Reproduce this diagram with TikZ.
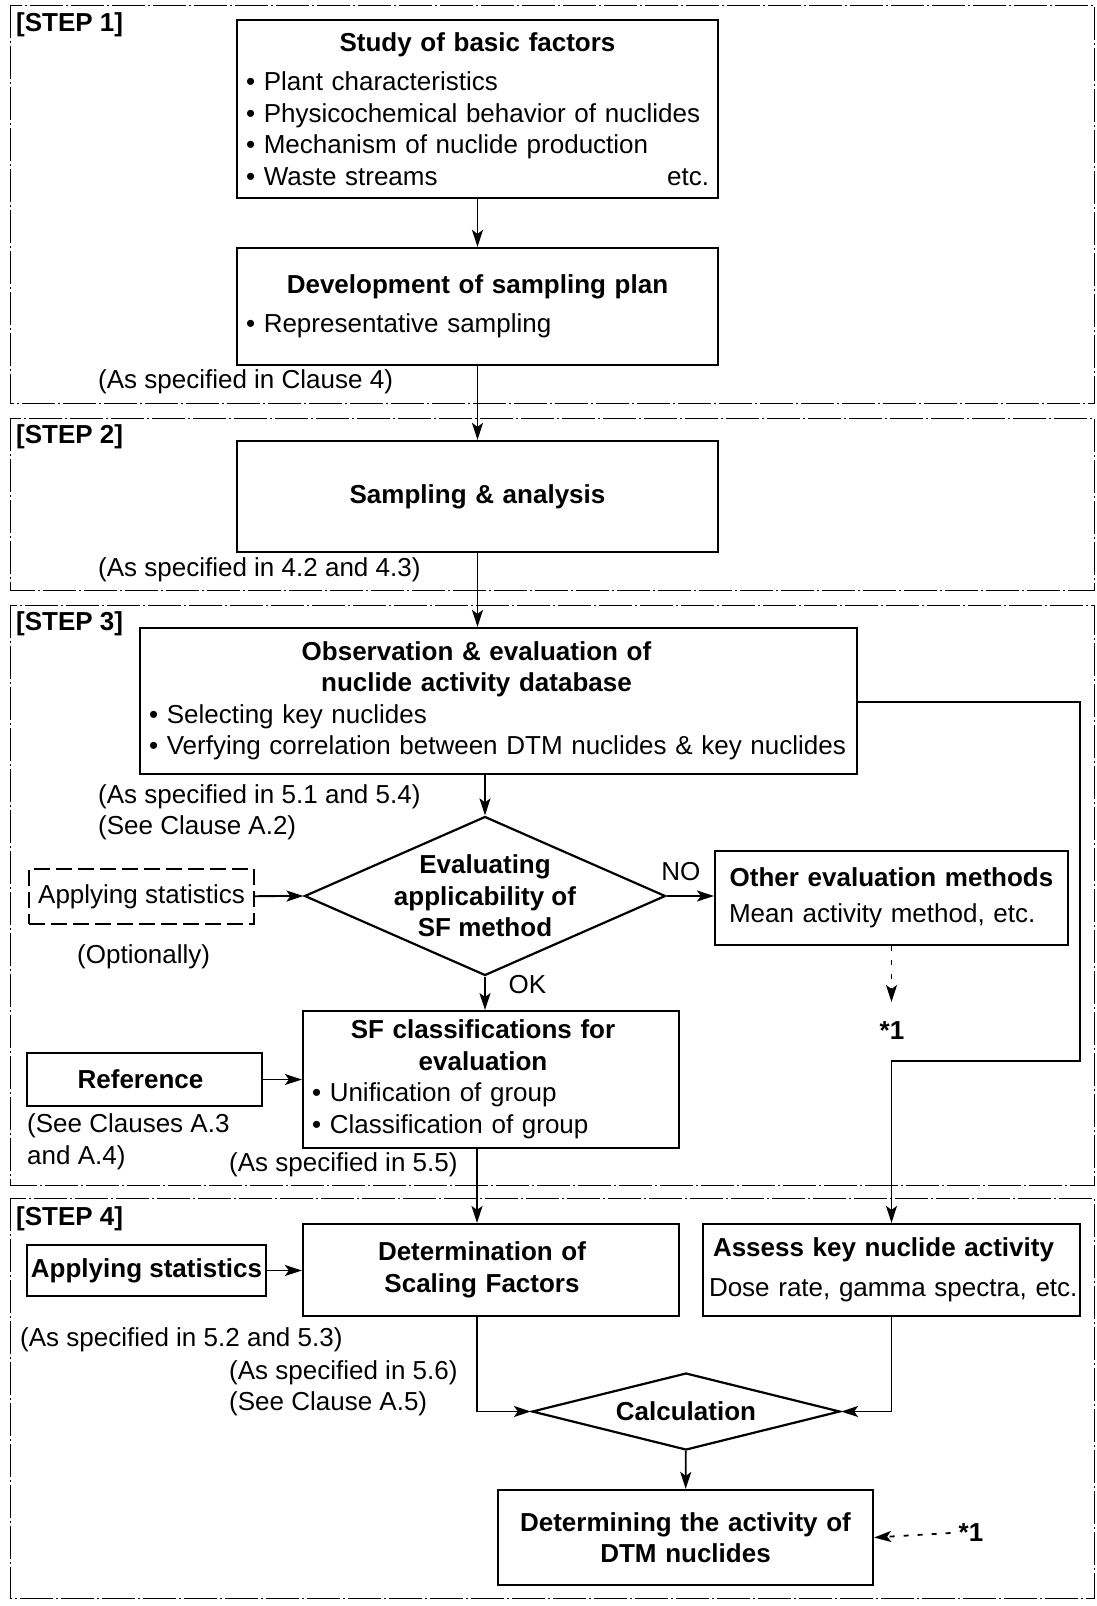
\documentclass[tikz,border=0pt]{standalone}
\usepackage{fontspec}
\setmainfont{Liberation Sans}
\usetikzlibrary{shapes.geometric,arrows.meta}
\begin{document}
\fontsize{26}{31.5}\selectfont
\begin{tikzpicture}[x=1pt,y=-1pt]
    \tikzset{box/.style={draw,line width=2.2pt,inner sep=9pt,align=left},
             decision/.style={diamond,draw,line width=2.2pt,inner sep=0pt},
             frame/.style={line width=1pt,dash pattern=on 33pt off 3pt on 2pt off 3pt},
             note/.style={anchor=west,inner sep=0pt},
             flow/.style={line width=1.8pt,-{Stealth[length=17pt,width=11pt,inset=4pt]}}}
    \useasboundingbox (0,0) rectangle (1096,1606);
    % step frames
    \draw[frame] (10,5) rectangle (1094,403);
    \draw[frame] (10,418) rectangle (1094,590);
    \draw[frame] (10,605) rectangle (1094,1185);
    \draw[frame] (10,1198) rectangle (1094,1598);
    \node[note,font=\bfseries] (s1) at (16,25) {[STEP 1]};
    \node[note,font=\bfseries] (s2) at (16,437) {[STEP 2]};
    \node[note,font=\bfseries] (s3) at (16,624) {[STEP 3]};
    \node[note,font=\bfseries] (s4) at (16,1219) {[STEP 4]};
    % step 1
    \node[box,text width=463pt,minimum height=178pt] (basic) at (477.5,109)
        {\centerline{\bfseries Study of basic factors}\vspace{8pt}
         \textbullet\ Plant characteristics\\
         \textbullet\ Physicochemical behavior of nuclides\\
         \textbullet\ Mechanism of nuclide production\\
         \textbullet\ Waste streams\hfill etc.};
    \node[box,text width=463pt,minimum height=117pt] (plan) at (477.5,306.5)
        {\centerline{\bfseries Development of sampling plan}\vspace{8pt}
         \textbullet\ Representative sampling};
    \node[note] (c4) at (98,382) {(As specified in Clause 4)};
    % step 2
    \node[box,align=center,font=\bfseries,text width=463pt,minimum height=111pt] (samp) at (477.5,496.5) {Sampling \& analysis};
    \node[note] (c42) at (98,570) {(As specified in 4.2 and 4.3)};
    % step 3
    \node[box,text width=699pt,minimum height=146pt] (obs) at (498.5,701)
        {\centerline{\kern-44pt\bfseries Observation \& evaluation of}
         \centerline{\kern-44pt\bfseries nuclide activity database}
         \textbullet\ Selecting key nuclides\\
         \textbullet\ Verfying correlation between DTM nuclides \& key nuclides};
    \node[note] (c51) at (98,797) {(As specified in 5.1 and 5.4)};
    \node[note] (a2) at (98,828) {(See Clause A.2)};
    \node[decision,minimum width=361pt,minimum height=159pt] (eval) at (485,896) {};
    \node[align=center,font=\bfseries] (evaltxt) at (eval) {Evaluating\\applicability of\\SF method};
    \node[draw,line width=2.2pt,dash pattern=on 16pt off 6pt,minimum width=225pt,minimum height=55pt,inner sep=0pt] (stat) at (141.5,896.5) {Applying statistics};
    \node[note] (opt) at (77,957) {(Optionally)};
    \node[box,text width=325pt,minimum height=94pt,inner sep=14pt] (other) at (891.5,898)
        {\centerline{\bfseries Other evaluation methods}\vspace{5pt}
         Mean activity method, etc.};
    \coordinate (dot1) at (891.5,1002);
    \node[font=\bfseries,anchor=north,inner sep=0pt] (star1) at (892,1021) {*1};
    \node[box,text width=358pt,minimum height=135pt] (sf) at (491,1079.5)
        {\centerline{\kern-16pt\bfseries SF classifications for}
         \centerline{\kern-16pt\bfseries evaluation}
         \textbullet\ Unification of group\\
         \textbullet\ Classification of group};
    \node[box,font=\bfseries,minimum width=235pt,minimum height=53pt,inner sep=0pt] (ref) at (144.5,1079.5) {Reference\hspace*{8pt}};
    \node[note,align=left] (a34) at (27,1142) {(See Clauses A.3\\and A.4)};
    \node[note] (c55) at (229,1165) {(As specified in 5.5)};
    % step 4
    \node[box,text width=358pt,minimum height=92pt] (det) at (491,1270)
        {\centerline{\kern-18pt\bfseries Determination of}
         \centerline{\kern-18pt\bfseries Scaling Factors}};
    \node[box,text width=373pt,minimum height=92pt,inner sep=2pt] (assess) at (891.5,1270)
        {\hbox{\hspace*{8pt}\bfseries Assess key nuclide activity}\vspace{8pt}
         \hbox{\hspace*{4pt}Dose rate, gamma spectra, etc.}};
    \node[box,font=\bfseries,minimum width=239pt,minimum height=51pt,inner sep=0pt] (stat2) at (146.5,1270.5) {Applying statistics};
    \node[note] (c52) at (20,1340) {(As specified in 5.2 and 5.3)};
    \node[note] (c56) at (229,1373) {(As specified in 5.6)};
    \node[note] (a5) at (229,1404) {(See Clause A.5)};
    \node[decision,minimum width=308pt,minimum height=77pt] (calc) at (686,1411.5) {};
    \node[font=\bfseries] (calctxt) at (calc) {Calculation};
    \node[box,align=center,font=\bfseries,text width=357pt,minimum height=95pt] (final) at (685.5,1537.5) {Determining the activity of\\DTM nuclides};
    \node[font=\bfseries,inner sep=0pt] (star2) at (971,1533) {*1};
    \coordinate (bend) at (1080,1061);
    % connectors
    \draw[flow] (basic) -- (plan);
    \draw[flow] (plan) -- (samp);
    \draw[flow] (samp.south) -- (samp.south |- obs.north);
    \draw[flow] (eval.north |- obs.south) -- (eval.north);
    \draw[flow] (stat) -- (eval.west);
    \draw[flow] (eval.east) -- (other.west |- eval.east) node[pos=0.3,above=6pt] {NO};
    \draw[flow,dash pattern=on 5pt off 9pt] (other.south) -- (dot1);
    \draw[flow] (eval.south) -- (eval.south |- sf.north) node[pos=0.25,right=14pt] {OK};
    \draw[flow] (ref) -- (sf.west |- ref.east);
    \draw[flow] (obs.east |- 0,702) -| (bend) -| (assess.north);
    \draw[flow] ([xshift=-14pt]sf.south) -- ([xshift=-14pt]det.north);
    \draw[flow] (stat2) -- (det.west |- stat2.east);
    \draw[flow] ([xshift=-14pt]det.south) |- (calc.west);
    \draw[flow] (assess.south) |- (calc.east);
    \draw[flow] (calc) -- (final);
    \draw[flow,dash pattern=on 5pt off 9pt] (star2.west) ++(-8pt,0) -- (final.east);
\end{tikzpicture}
\end{document}
